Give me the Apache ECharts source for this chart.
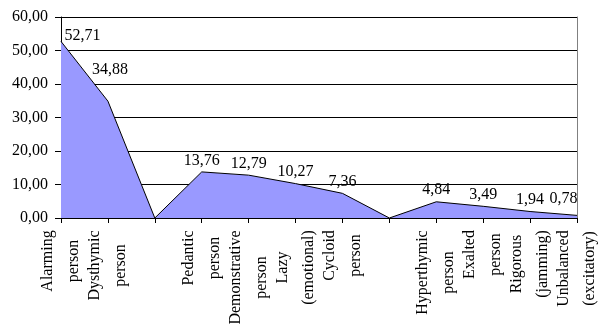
<!DOCTYPE html>
<html>
<head>
<meta charset="utf-8">
<script src="https://cdn.jsdelivr.net/npm/echarts@6/dist/echarts.min.js"></script>
<style>
  html, body { margin: 0; padding: 0; background: #fff; }
  #chart { width: 603px; height: 328px; }
</style>
</head>
<body>
<div id="chart"></div>
<script>
// категории (пустые — разрывы между группами)
const categories = [
    'Alarming\nperson', 'Dysthymic\nperson', '',
    'Pedantic\nperson', 'Demonstrative\nperson', 'Lazy\n(emotional)', 'Cycloid\nperson', '',
    'Hyperthymic\nperson', 'Exalted\nperson', 'Rigorous\n(jamming)', 'Unbalanced\n(excitatory)'
];
const values = [52.71, 34.88, 0, 13.76, 12.79, 10.27, 7.36, 0, 4.84, 3.49, 1.94, 0.78];
const yTicks = [0, 10, 20, 30, 40, 50, 60];

const font = '"Liberation Serif", "Times New Roman", serif';
const fontSize = 16;
const comma = v => v.toFixed(2).replace('.', ',');

// ширина самой длинной строки подписи — чтобы строки центрировались
const ctx = document.createElement('canvas').getContext('2d');
ctx.font = fontSize + 'px ' + font;
const rich = {};
categories.forEach((c, i) => {
    const w = Math.max(1, ...c.split('\n').map(s => Math.ceil(ctx.measureText(s).width)));
    rich['c' + i] = { width: w, align: 'center', fontFamily: font, fontSize: fontSize, lineHeight: 26, color: '#000' };
});

// подписи к точкам; нули без подписи
const seriesData = values.map((v, i) => {
    const item = { value: v };
    if (v === 0) {
        item.label = { show: false };
    } else if (i === 0) {
        item.label = { position: 'right', offset: [0, -6] };
    } else if (i === 1) {
        item.label = { offset: [2, -20] };
    } else if (i === values.length - 1) {
        item.label = { position: 'left', offset: [4, -17] };
    }
    return item;
});

const chart = echarts.init(document.getElementById('chart'));
chart.setOption({
    animation: false,
    grid: { left: 61, right: 19, top: 17, bottom: 107 },
    xAxis: {
        type: 'category',
        boundaryGap: false,
        data: categories,
        axisLine: { lineStyle: { color: '#000', width: 1 } },
        axisTick: { show: true, length: 5, lineStyle: { color: '#000' } },
        axisLabel: {
            rotate: 90,
            interval: 0,
            margin: 12,
            color: '#000',
            fontFamily: font,
            fontSize: fontSize,
            lineHeight: 26,
            formatter: (v, i) => v ? v.split('\n').map(s => '{c' + i + '|' + s + '}').join('\n') : '',
            rich: rich
        },
        splitLine: { show: false }
    },
    yAxis: [{
        type: 'value',
        min: yTicks[0],
        max: yTicks[yTicks.length - 1],
        interval: 10,
        axisLine: { show: true, lineStyle: { color: '#000', width: 1 } },
        axisTick: { show: true, length: 6, lineStyle: { color: '#000' } },
        axisLabel: {
            margin: 13,
            color: '#000',
            fontFamily: font,
            fontSize: fontSize,
            formatter: v => comma(v)
        },
        splitLine: { show: true, lineStyle: { color: '#000', width: 1 } }
    }, {
        type: 'value',
        position: 'right',
        min: yTicks[0],
        max: yTicks[yTicks.length - 1],
        interval: 10,
        axisLine: { show: true, lineStyle: { color: '#808080', width: 1 } },
        axisTick: { show: false },
        axisLabel: { show: false },
        splitLine: { show: false }
    }],
    series: [{
        type: 'line',
        data: seriesData,
        symbol: 'circle',
        symbolSize: 1,
        showAllSymbol: true,
        itemStyle: { color: 'rgba(0,0,0,0)' },
        lineStyle: { color: '#000', width: 1 },
        areaStyle: { color: '#9999ff', opacity: 1 },
        label: {
            show: true,
            position: 'top',
            distance: 3,
            color: '#000',
            fontFamily: font,
            fontSize: fontSize,
            formatter: p => comma(p.value)
        }
    }]
});
</script>
</body>
</html>
